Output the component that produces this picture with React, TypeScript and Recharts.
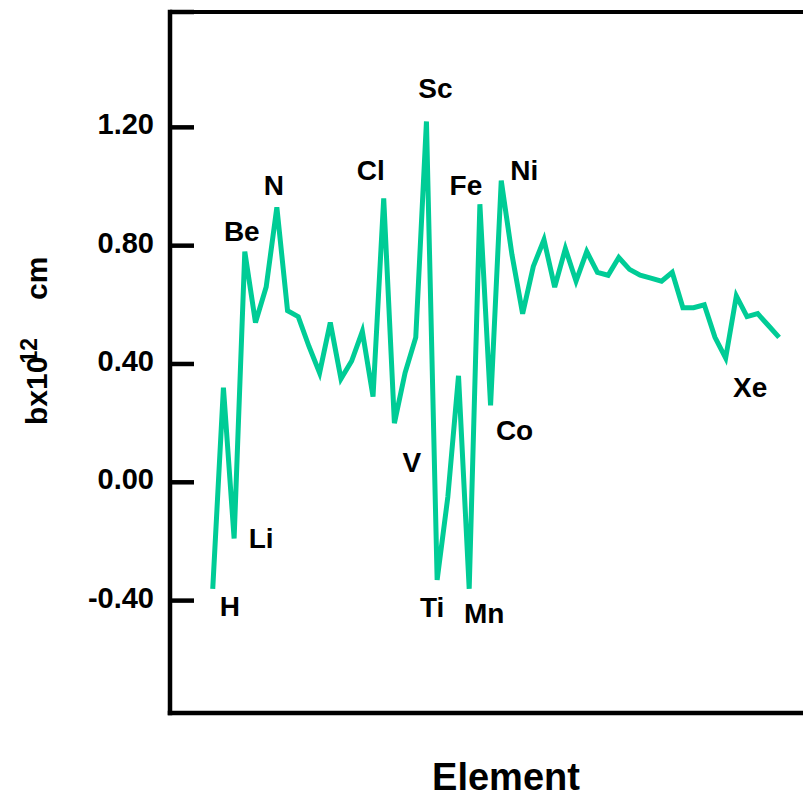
import React from "react";
import { LineChart, Line, XAxis, YAxis, ReferenceLine, LabelList } from "recharts";

// elements in order of atomic number, H .. Xe
const symbols = [
  "H", "He", "Li", "Be", "B", "C", "N", "O", "F", "Ne",
  "Na", "Mg", "Al", "Si", "P", "S", "Cl", "Ar", "K", "Ca",
  "Sc", "Ti", "V", "Cr", "Mn", "Fe", "Co", "Ni", "Cu", "Zn",
  "Ga", "Ge", "As", "Se", "Br", "Kr", "Rb", "Sr", "Y", "Zr",
  "Nb", "Mo", "Tc", "Ru", "Rh", "Pd", "Ag", "Cd", "In", "Sn",
  "Sb", "Te", "I", "Xe",
];

// scattering length b (x10^-12 cm)
const scatteringLength = [
  -0.36, 0.32, -0.19, 0.78, 0.54, 0.66, 0.93, 0.58, 0.56, 0.46,
  0.37, 0.54, 0.35, 0.41, 0.51, 0.29, 0.96, 0.2, 0.37, 0.49,
  1.22, -0.33, -0.05, 0.36, -0.36, 0.94, 0.26, 1.02, 0.77, 0.57,
  0.73, 0.82, 0.66, 0.79, 0.68, 0.78, 0.71, 0.7, 0.76, 0.72,
  0.7, 0.69, 0.68, 0.71, 0.59, 0.59, 0.6, 0.49, 0.42, 0.63,
  0.56, 0.57, 0.53, 0.49,
];

const yTicks = [-0.4, 0, 0.4, 0.8, 1.2];
const labeledElements = ["H", "Li", "Be", "N", "Cl", "V", "Sc", "Ti", "Mn", "Fe", "Co", "Ni", "Xe"];

const Y_MIN = -0.78;
const Y_MAX = 1.59;

// where each element label sits relative to its point (dx, dy to text baseline centre)
const labelOffsets = {
  H: [17, 27],
  Li: [27, 10],
  Be: [-3, -11],
  N: [-3, -12],
  Cl: [-13, -18],
  V: [-36, -25],
  Sc: [9, -23],
  Ti: [-5, 37],
  Mn: [15, 34],
  Fe: [-14, -9],
  Co: [24, 35],
  Ni: [23, -1],
  Xe: [-29, 60],
};

const data = symbols.map((s, i) => ({ z: i + 1, symbol: s, b: scatteringLength[i] }));

const FONT = "'Liberation Sans', Arial, Helvetica, sans-serif";
const TICK_MARGIN = 16;

function YTick(props) {
  const { x, y, payload } = props;
  const v = payload.value;
  return (
    <g>
      <line x1={x + TICK_MARGIN} x2={x + TICK_MARGIN + 24} y1={y} y2={y} stroke="#000" strokeWidth={4.5} />
      {v < Y_MAX && (
        <text x={x} y={y + 7} textAnchor="end" fontFamily={FONT} fontWeight="bold" fontSize={29} fill="#000">
          {v.toFixed(2)}
        </text>
      )}
    </g>
  );
}

function ElementLabel(props) {
  const { x, y, value } = props;
  if (!labeledElements.includes(value)) return null;
  const [dx, dy] = labelOffsets[value];
  return (
    <text x={x + dx} y={y + dy} textAnchor="middle" fontFamily={FONT} fontWeight="bold" fontSize={28} fill="#000">
      {value}
    </text>
  );
}

function XTitle(props) {
  const { viewBox } = props;
  return (
    <text x={viewBox.x + 336} y={viewBox.y + 77} textAnchor="middle" fontFamily={FONT} fontWeight="bold" fontSize={38} fill="#000">
      Element
    </text>
  );
}

function YTitle(props) {
  const { viewBox } = props;
  const x = viewBox.x + 47;
  const y = viewBox.y + 413;
  return (
    <text x={x} y={y} transform={`rotate(-90, ${x}, ${y})`} fontFamily={FONT} fontWeight="bold" fontSize={30} fill="#000">
      bx10
      <tspan dx={-7} dy={-10} fontSize={23}>12</tspan>
      <tspan dx={38} dy={10}>cm</tspan>
    </text>
  );
}

export default function App() {
  return (
    <div style={{ position: "absolute", left: 0, top: 0, width: 803, height: 798, overflow: "hidden", background: "#fff" }}>
      <LineChart width={812} height={798} data={data} margin={{ top: 12, right: 3, left: 0, bottom: 0 }}>
        <XAxis
          type="number"
          dataKey="z"
          domain={[-3, 56.8]}
          tick={false}
          tickLine={false}
          height={85}
          axisLine={{ stroke: "#000", strokeWidth: 4.5, strokeLinecap: "square" }}
          label={<XTitle />}
        />
        <YAxis
          type="number"
          domain={[Y_MIN, Y_MAX]}
          ticks={[...yTicks, Y_MAX]}
          width={170}
          tickSize={0}
          tickMargin={TICK_MARGIN}
          tickLine={false}
          tick={<YTick />}
          axisLine={{ stroke: "#000", strokeWidth: 4.5, strokeLinecap: "square" }}
          label={<YTitle />}
        />
        <ReferenceLine y={Y_MAX} stroke="#000" strokeWidth={4} />
        <Line
          type="linear"
          dataKey="b"
          stroke="#00cc96"
          strokeWidth={5}
          dot={false}
          activeDot={false}
          isAnimationActive={false}
        >
          <LabelList dataKey="symbol" content={<ElementLabel />} />
        </Line>
      </LineChart>
    </div>
  );
}
